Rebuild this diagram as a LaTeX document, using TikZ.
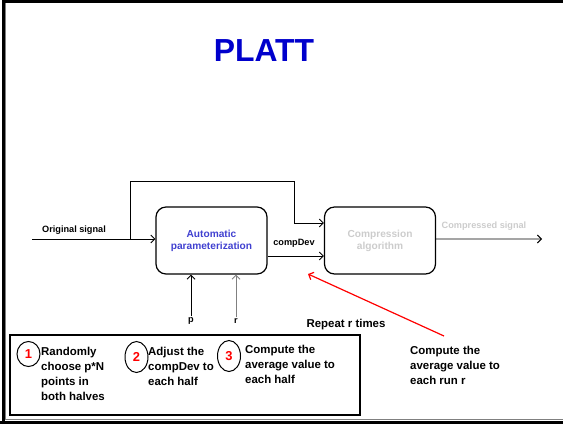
\documentclass[tikz,border=0pt]{standalone}
\usepackage{fontspec}
\setmainfont{Liberation Sans}
\usepackage{xcolor}
\definecolor{titleblue}{RGB}{0,0,204}
\definecolor{boxblue}{RGB}{64,64,208}
\definecolor{paleg}{RGB}{204,204,204}
\usetikzlibrary{arrows,arrows.meta,positioning,shapes}

\begin{document}
\begin{tikzpicture}[x=1bp,y=-1bp,>={Straight Barb[length=4bp,width=8bp]},
 block/.style={draw,rounded corners=10bp,line width=1.2bp,minimum width=111bp,minimum height=67bp,align=center,font=\bfseries\fontsize{10.2}{12}\selectfont},
 lbl/.style={font=\bfseries\fontsize{9.2}{10}\selectfont,inner sep=1bp},
 note/.style={align=left,anchor=north west,inner sep=0pt,font=\bfseries\fontsize{11.5}{15}\selectfont},
 num/.style={draw,ellipse,line width=1bp,minimum width=23bp,minimum height=31bp,inner sep=0pt,text=red,font=\bfseries\fontsize{13}{14}\selectfont},
 wire/.style={->,line width=0.9bp}]
  \useasboundingbox (0,0) rectangle (563,424);
  \draw[line width=3bp] (3,424) -- (3,1.5) -- (563,1.5);
  \draw[line width=3bp] (0,422.5) -- (563,422.5);
  \draw[gray,line width=0.8bp] (5.5,3) -- (5.5,419) -- (563,419);

  \node[font=\bfseries\fontsize{32}{36}\selectfont,text=titleblue] (title) at (264,51) {PLATT};

  \node[block,text=boxblue] (autop) at (211.5,240.5) {Automatic\\parameterization};
  \node[block,text=paleg] (compalg) at (380,240.5) {Compression\\algorithm};

  \coordinate (sigin) at (32,239);
  \coordinate (tap) at (130,239);
  \coordinate (loop) at (294,181);
  \coordinate (sigout) at (542,239);
  \draw[wire] (sigin) -- (sigin -| autop.west);
  \draw[wire] (tap) |- (loop) |- ([yshift=17.5bp]compalg.west);
  \draw[wire] ([yshift=-15.5bp]autop.east) -- ([yshift=-15.5bp]compalg.west);
  \draw[wire] ([yshift=1.5bp]compalg.east) -- (sigout);
  \node[lbl] (origlbl) at (74,230) {Original signal};
  \node[lbl] (cdlbl) at (294,243) {compDev};
  \node[lbl,text=paleg] (outlbl) at (484,226) {Compressed signal};

  \node[lbl] (plbl) at (191,321) {p};
  \node[lbl] (rlbl) at (236,321) {r};
  \draw[wire] (plbl.north) -- (plbl.north |- autop.south);
  \draw[wire,gray] (rlbl.north) -- (rlbl.north |- autop.south);

  \coordinate (redtail) at (444,336);
  \coordinate (redhead) at (308,274);
  \draw[wire,red,line width=1.2bp] (redtail) -- (redhead);
  \node[note,anchor=center] (repeat) at (346,325) {Repeat r times};

  \node[draw,line width=2bp,minimum width=350bp,minimum height=80bp] (steps) at (185,375) {};
  \node[num,minimum height=25bp] (n1) at (28.5,354) {1};
  \node[num] (n2) at (136.5,357) {2};
  \node[num] (n3) at (229,356) {3};
  \node[note] (s1) at (41,347) {Randomly\\choose p*N\\points in\\both halves};
  \node[note] (s2) at (148,347) {Adjust the\\compDev to\\each half};
  \node[note] (s3) at (245,345) {Compute the\\average value to\\each half};
  \node[note] (runavg) at (410,346) {Compute the\\average value to\\each run r};
\end{tikzpicture}
\end{document}
